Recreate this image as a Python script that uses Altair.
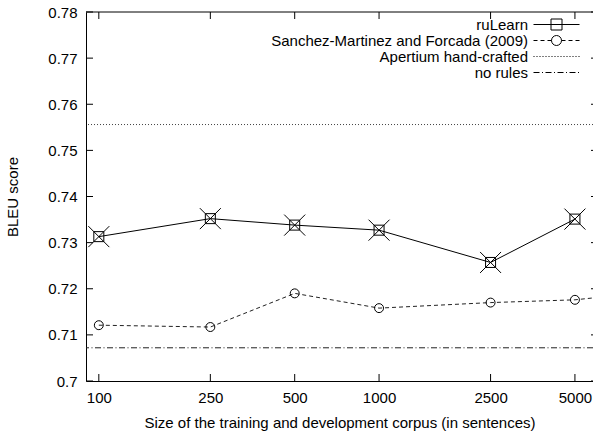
import altair as alt
import pandas as pd

# ---- data ----
sizes = [100, 250, 500, 1000, 2500, 5000]
rulearn = [0.7313, 0.7352, 0.7338, 0.7327, 0.7257, 0.7351]
sanchez_sizes = [100, 250, 500, 1000, 2500, 5000, 10000]
sanchez = [0.7121, 0.7117, 0.7190, 0.7158, 0.7170, 0.7176, 0.7195]
apertium = [0.7556]
norules = [0.7072]
series_names = ["ruLearn", "Sanchez-Martinez and Forcada (2009)",
                "Apertium hand-crafted", "no rules"]
x_ticks = [100, 250, 500, 1000, 2500, 5000]
y_ticks = [0.70, 0.71, 0.72, 0.73, 0.74, 0.75, 0.76, 0.77, 0.78]

FONT = "Liberation Sans"
FS = 15
W, H = 507, 369

df_r = pd.DataFrame({"size": sizes, "v": rulearn})
df_s = pd.DataFrame({"size": sanchez_sizes, "v": sanchez})
df_a = pd.DataFrame({"v": apertium})
df_n = pd.DataFrame({"v": norules})
df_xt = pd.DataFrame({"t": x_ticks})
df_yt = pd.DataFrame({"t": y_ticks})
df_leg = pd.DataFrame({"series": series_names,
                       "size": [sizes[0]] * 4,
                       "v": [rulearn[0], sanchez[0], apertium[0], norules[0]]})

xscale = alt.Scale(type="log", domain=[90, 5800], nice=False)
yscale = alt.Scale(domain=[0.70, 0.78], nice=False, zero=False)
xaxis = alt.Axis(values=x_ticks, format="d", grid=False, ticks=False, tickSize=0,
                 labelPadding=9, labelFont=FONT, labelFontSize=FS, labelColor="black",
                 domainColor="black", domainWidth=1, titleFont=FONT, titleFontSize=FS,
                 titleFontWeight="normal", titleColor="black", titlePadding=10)
yaxis = alt.Axis(values=y_ticks, format=".2~f", grid=False, ticks=False, tickSize=0,
                 labelPadding=9, labelFont=FONT, labelFontSize=FS, labelColor="black",
                 domainColor="black", domainWidth=1, titleFont=FONT, titleFontSize=FS,
                 titleFontWeight="normal", titleColor="black", titlePadding=27)


def X(f):
    return alt.X(f"{f}:Q", scale=xscale, axis=xaxis,
                 title="Size of the training and development corpus (in sentences)")


def Y(f):
    return alt.Y(f"{f}:Q", scale=yscale, axis=yaxis, title="BLEU score")


# legend symbol paths (unit = 5 px with symbolSize 100)
def segs(pattern, start=-4.6, end=4.6):
    out, x, i = [], start, 0
    while x < end:
        L = pattern[i % len(pattern)]
        if i % 2 == 0:
            out.append(f"M{x:.2f},0H{min(x + L, end):.2f}")
        x += L
        i += 1
    return "".join(out)


circle = "M1,0A1,1 0 1,1 -1,0A1,1 0 1,1 1,0"
sym_r = "M-4.6,0H4.6M-1.1,-1.1H1.1V1.1H-1.1Z"
sym_s = segs([0.8, 0.6], -4.6, -1.0) + segs([0.8, 0.6], 1.0, 4.6) + circle
sym_a = segs([0.2, 0.4])
sym_n = segs([1.2, 0.5, 0.2, 0.5])

line_r = alt.Chart(df_r).mark_line(color="black", strokeWidth=1).encode(x=X("size"), y=Y("v"))
sq_r = alt.Chart(df_r).mark_point(shape="square", size=100, filled=False, color="black",
                                  strokeWidth=1, opacity=1).encode(x=X("size"), y=Y("v"))
x_r = alt.Chart(df_r).mark_point(shape="M-1,-1L1,1M-1,1L1,-1", size=441, filled=False,
                                 color="black", strokeWidth=1, opacity=1).encode(x=X("size"), y=Y("v"))
line_s = alt.Chart(df_s).mark_line(color="#222", strokeWidth=1, strokeDash=[4, 3],
                                   clip=True).encode(x=X("size"), y=Y("v"))
pt_s = alt.Chart(df_s).mark_point(shape="circle", size=80, filled=False, color="black",
                                  strokeWidth=1, opacity=1, clip=True).encode(x=X("size"), y=Y("v"))
rule_a = alt.Chart(df_a).mark_rule(color="#444", strokeWidth=1, strokeDash=[1, 2]).encode(y=Y("v"))
rule_n = alt.Chart(df_n).mark_rule(color="#222", strokeWidth=1,
                                   strokeDash=[6, 2.5, 1, 2.5]).encode(y=Y("v"))

tick_b = alt.Chart(df_xt).mark_rule(color="black", strokeWidth=1).encode(
    x=X("t"), y=alt.value(H), y2=alt.value(H - 7))
tick_t = alt.Chart(df_xt).mark_rule(color="black", strokeWidth=1).encode(
    x=X("t"), y=alt.value(0), y2=alt.value(7))
tick_l = alt.Chart(df_yt).mark_rule(color="black", strokeWidth=1).encode(
    y=Y("t"), x=alt.value(0), x2=alt.value(7))
tick_rt = alt.Chart(df_yt).mark_rule(color="black", strokeWidth=1).encode(
    y=Y("t"), x=alt.value(W - 2), x2=alt.value(W))
top_border = alt.Chart(df_a).mark_rule(color="black", strokeWidth=1).encode(y=alt.value(0))

legend_layer = alt.Chart(df_leg).mark_point(opacity=0, color="black", filled=False).encode(
    x=X("size"), y=Y("v"),
    shape=alt.Shape("series:N", sort=series_names, title=None,
                    scale=alt.Scale(domain=series_names, range=[sym_r, sym_s, sym_a, sym_n]),
                    legend=alt.Legend(orient="none", legendX=463, legendY=5, direction="vertical",
                                      labelAlign="right", labelOffset={"expr": "-36"},
                                      labelFont=FONT,
                                      labelFontSize=FS, labelColor="black", labelLimit=400,
                                      symbolSize=100, symbolStrokeColor="black",
                                      symbolStrokeWidth=1, symbolFillColor="white",
                                      rowPadding={"expr": "-3"}, padding=0)))

chart = alt.layer(
    rule_a, rule_n, line_r, sq_r, x_r, line_s, pt_s,
    tick_b, tick_t, tick_l, tick_rt, top_border, legend_layer
).properties(
    width=W, height=H,
    autosize=alt.AutoSizeParams(type="none"),
    padding={"left": 86, "top": 12, "right": 0, "bottom": 50},
    background="white",
).configure_view(strokeWidth=0)

chart.save("out.html", embed_options={"renderer": "svg", "actions": False})
